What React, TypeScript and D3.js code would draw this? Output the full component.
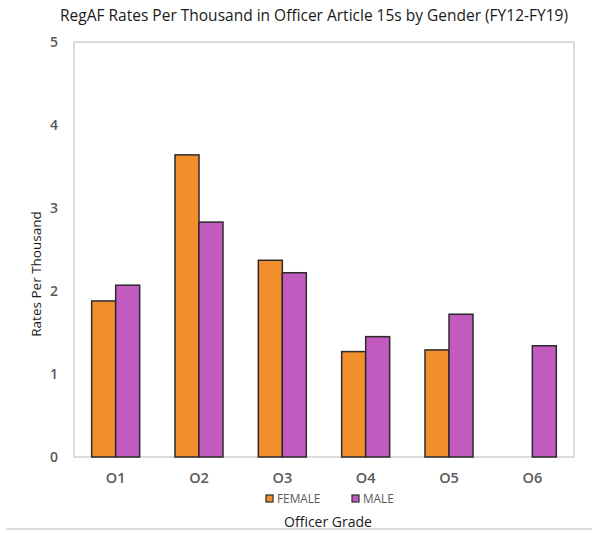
import React from "react";
import * as d3 from "d3";

const categories = ["O1", "O2", "O3", "O4", "O5", "O6"];
const femaleValues: (number | null)[] = [1.88, 3.64, 2.37, 1.27, 1.29, null];
const maleValues: (number | null)[] = [2.07, 2.83, 2.22, 1.45, 1.72, 1.34];
const yTicks = [0, 1, 2, 3, 4, 5];
const seriesNames = ["FEMALE", "MALE"];
const seriesColors = ["#F28F2D", "#C25BBF"];

const W = 592;
const H = 533;
const left = 74;
const right = 574;
const top = 42;
const bottom = 457;
const font = "'Open Sans', 'Noto Sans', sans-serif";

export default function App() {
  const x = d3.scaleBand<string>().domain(categories).range([left, right]);
  const y = d3.scaleLinear().domain([0, 5]).range([bottom, top]);
  const bw = 24;
  const series = [femaleValues, maleValues];

  return (
    <svg width={W} height={H} style={{ position: "absolute", left: 0, top: 0, background: "#fff" }}>
      <rect x={0} y={0} width={W} height={H} fill="#fff" />
      <text x={314} y={21} textAnchor="middle" fontFamily={font} fontSize={15.5} fill="#1a1a1a">
        RegAF Rates Per Thousand in Officer Article 15s by Gender (FY12-FY19)
      </text>
      <rect x={left} y={top} width={right - left} height={bottom - top} fill="none" stroke="#d0d0d0" strokeWidth={1.5} />
      {yTicks.map((t) => (
        <text key={t} x={54} y={y(t)} dy="0.35em" textAnchor="middle" fontFamily={font} fontSize={14} fontWeight={600} fill="#595959">
          {t}
        </text>
      ))}
      {series.map((vals, si) =>
        categories.map((c, i) => {
          const v = vals[i];
          if (v == null) return null;
          const cx = (x(c) as number) + x.bandwidth() / 2;
          const bx = si === 0 ? cx - bw : cx;
          return (
            <rect
              key={si + "-" + c}
              x={bx}
              y={y(v)}
              width={bw}
              height={y(0) - y(v)}
              fill={seriesColors[si]}
              stroke="#2b2b2b"
              strokeWidth={1.5}
            />
          );
        })
      )}
      {categories.map((c) => (
        <text key={c} x={(x(c) as number) + x.bandwidth() / 2} y={478} dy="0.35em" textAnchor="middle" fontFamily={font} fontSize={14.5} fontWeight={600} fill="#595959">
          {c}
        </text>
      ))}
      {seriesNames.map((n, i) => {
        const lx = i === 0 ? 266 : 352;
        return (
          <g key={n}>
            <rect x={lx} y={495} width={7} height={7} fill={seriesColors[i]} stroke="#2b2b2b" strokeWidth={1.2} />
            <text x={lx + 11} y={499} dy="0.35em" fontFamily={font} fontSize={11.8} fill="#595959">
              {n}
            </text>
          </g>
        );
      })}
      <text x={328} y={522} dy="0.35em" textAnchor="middle" fontFamily={font} fontSize={14} fill="#1a1a1a">
        Officer Grade
      </text>
      <text transform="translate(36,274) rotate(-90)" dy="0.35em" textAnchor="middle" fontFamily={font} fontSize={13.5} fill="#1a1a1a">
        Rates Per Thousand
      </text>
      <line x1={6} x2={W} y1={529} y2={529} stroke="#d0d0d0" strokeWidth={1.5} />
    </svg>
  );
}
